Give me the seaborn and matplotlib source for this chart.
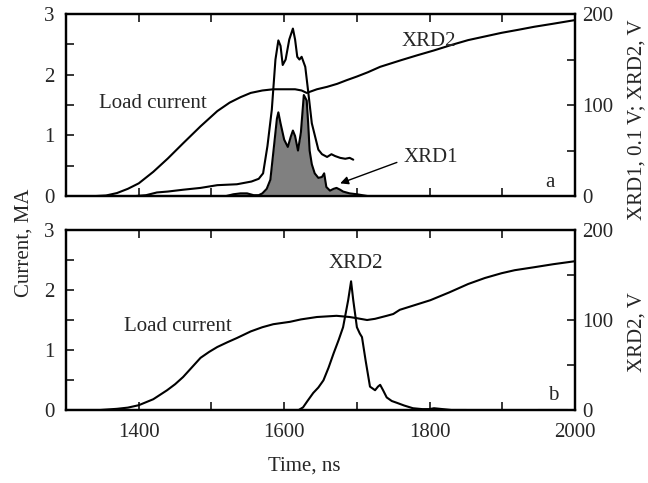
import numpy as np
import pandas as pd
import matplotlib
matplotlib.use("Agg")
import matplotlib.pyplot as plt
from matplotlib.ticker import MultipleLocator
import seaborn as sns

# ---------------- data ----------------
# Panel a: load current (MA)
ta_load = [1300, 1340, 1355, 1370, 1385, 1400, 1420, 1440, 1461, 1485, 1508, 1525, 1540,
           1554, 1570, 1585, 1600, 1615, 1624, 1631, 1645, 1659, 1673, 1686, 1700, 1715,
           1732, 1761, 1783, 1806, 1830, 1853, 1876, 1899, 1922, 1944, 1970, 2000]
ia_load = [0, 0, 0.01, 0.05, 0.12, 0.21, 0.4, 0.62, 0.87, 1.15, 1.40, 1.54, 1.63,
           1.70, 1.74, 1.76, 1.76, 1.76, 1.74, 1.70, 1.76, 1.80, 1.85, 1.91, 1.97, 2.04,
           2.13, 2.24, 2.32, 2.40, 2.49, 2.57, 2.63, 2.69, 2.74, 2.79, 2.84, 2.9]
# Panel a: XRD2 (V)
ta_xrd2 = [1395, 1410, 1425, 1440, 1461, 1485, 1508, 1535, 1555, 1565, 1571, 1577, 1583,
           1588, 1592, 1595, 1598, 1602, 1607, 1612, 1615, 1618, 1621, 1624, 1629, 1633,
           1638, 1647, 1652, 1659, 1665, 1670, 1677, 1684, 1690, 1695]
va_xrd2 = [0, 1, 4, 5, 7, 9, 12, 13, 16, 19, 25, 55, 95,
           150, 171, 165, 144, 150, 172, 184, 172, 153, 150, 153, 142, 115,
           80, 51, 46, 43, 46, 44, 42, 41, 42, 40]
# Panel a: XRD1 (units of 0.1 V)
ta_xrd1 = [1520, 1530, 1540, 1549, 1558, 1565, 1570, 1576, 1581, 1586, 1590, 1592, 1595,
           1600, 1605, 1609, 1612, 1615, 1619, 1623, 1627, 1631, 1633, 1635, 1638, 1642,
           1647, 1652, 1655, 1658, 1663, 1668, 1672, 1677, 1681, 1690, 1700, 1715, 1725,
           1733, 1738]
va_xrd1 = [0, 2, 3, 3, 1, 1, 3, 8, 18, 55, 85, 92, 80,
           62, 54, 65, 72, 66, 50, 70, 111, 105, 80, 50, 35, 25,
           20, 21, 25, 10, 6, 8, 9, 7, 5, 3, 2, 0, -1, -2, 0]
# Panel b: load current (MA)
tb_load = [1300, 1347, 1370, 1385, 1400, 1420, 1439, 1450, 1461, 1473, 1485, 1497, 1508,
           1522, 1535, 1554, 1570, 1585, 1608, 1623, 1645, 1672, 1690, 1700, 1714, 1725,
           1741, 1750, 1759, 1780, 1801, 1827, 1853, 1876, 1899, 1917, 1944, 1970, 2000]
ib_load = [0, 0, 0.02, 0.04, 0.08, 0.18, 0.33, 0.43, 0.55, 0.71, 0.87, 0.97, 1.05,
           1.13, 1.2, 1.31, 1.38, 1.43, 1.47, 1.51, 1.55, 1.57, 1.55, 1.53, 1.5, 1.52,
           1.57, 1.60, 1.67, 1.75, 1.83, 1.96, 2.1, 2.2, 2.28, 2.33, 2.38, 2.43, 2.48]
# Panel b: XRD2 (V)
tb_xrd2 = [1600, 1609, 1620, 1626, 1632, 1640, 1647, 1654, 1661, 1668, 1675, 1681, 1688,
           1692, 1695, 1700, 1704, 1707, 1712, 1718, 1725, 1729, 1732, 1736, 1741, 1748,
           1755, 1765, 1777, 1790, 1800, 1806, 1830, 1850, 1900, 1950, 1990]
vb_xrd2 = [0, 0, 0, 3, 10, 19, 25, 33, 47, 63, 78, 92, 122,
           143, 122, 92, 85, 81, 55, 26, 22, 26, 28, 22, 14, 10,
           8, 5, 2, 1, 1, 2, 0, 0, -1, 0, 0]

x_tick_labels = [1400, 1600, 1800, 2000]

# ---------------- style ----------------
sns.set_style("ticks")
plt.rcParams['font.family'] = ['Liberation Serif', 'DejaVu Serif']
plt.rcParams['font.size'] = 15

fig = plt.figure(figsize=(6.48, 4.83), dpi=100)
ax_a = fig.add_axes([0.1019, 0.594, 0.7855, 0.377])
ax_b = fig.add_axes([0.1019, 0.1511, 0.7855, 0.3727])
ax_a2 = ax_a.twinx()
ax_b2 = ax_b.twinx()

lw = 1.5
# panel a
sns.lineplot(x=ta_load, y=ia_load, ax=ax_a, color='black', lw=lw, sort=False)
ax_a2.fill_between(ta_xrd1, va_xrd1, 0, color='#808080', lw=0)
sns.lineplot(x=ta_xrd1, y=va_xrd1, ax=ax_a2, color='black', lw=lw, sort=False)
sns.lineplot(x=ta_xrd2, y=va_xrd2, ax=ax_a2, color='black', lw=lw, sort=False)
# panel b
sns.lineplot(x=tb_load, y=ib_load, ax=ax_b, color='black', lw=lw, sort=False)
sns.lineplot(x=tb_xrd2, y=vb_xrd2, ax=ax_b2, color='black', lw=lw, sort=False)

for ax, ax2 in [(ax_a, ax_a2), (ax_b, ax_b2)]:
    ax.set_xlim(1300, 2000)
    ax.set_ylim(0, 3)
    ax2.set_ylim(0, 200)
    ax.xaxis.set_major_locator(MultipleLocator(200))
    ax.xaxis.set_minor_locator(MultipleLocator(100))
    ax.yaxis.set_major_locator(MultipleLocator(1))
    ax.yaxis.set_minor_locator(MultipleLocator(0.5))
    ax2.yaxis.set_major_locator(MultipleLocator(100))
    ax2.yaxis.set_minor_locator(MultipleLocator(50))
    ax.tick_params(axis='both', which='both', direction='in', top=True, labelsize=15,
                   width=1.3, length=6)
    ax.tick_params(axis='x', pad=9)
    ax.tick_params(axis='y', pad=8)
    ax2.tick_params(axis='y', which='both', direction='in', labelsize=15, width=1.3,
                    length=6, pad=5)
    for a in (ax, ax2):
        for s in a.spines.values():
            s.set_linewidth(1.6)
            s.set_color('black')
        a.set_xlabel('')
        a.set_ylabel('')

ax_a.tick_params(labelbottom=False)
ax_b.set_xticks(x_tick_labels)

# annotations panel a
ax_a.text(1799, 2.55, 'XRD2', ha='center', va='center', fontsize=15)
ax_a.text(1419, 1.52, 'Load current', ha='center', va='center', fontsize=15)
ax_a.text(1966, 0.23, 'a', ha='center', va='center', fontsize=15)
ax_a2.text(1802, 42, 'XRD1', ha='center', va='center', fontsize=15)
ax_a2.annotate('', xy=(1677, 14), xytext=(1755, 37),
               arrowprops=dict(arrowstyle='-|>', color='black', lw=1.0,
                               shrinkA=0, shrinkB=0, mutation_scale=12))
# annotations panel b
ax_b.text(1699, 2.45, 'XRD2', ha='center', va='center', fontsize=15)
ax_b.text(1454, 1.4, 'Load current', ha='center', va='center', fontsize=15)
ax_b.text(1970, 0.25, 'b', ha='center', va='center', fontsize=15)

# axis labels
fig.text(24 / 648, 1 - 243 / 483, 'Current, MA', rotation=90, ha='center', va='center', fontsize=15)
fig.text(637 / 648, 1 - 120 / 483, 'XRD1, 0.1 V; XRD2, V', rotation=90, ha='center',
         va='center', fontsize=15)
fig.text(637 / 648, 1 - 332 / 483, 'XRD2, V', rotation=90, ha='center', va='center', fontsize=15)
fig.text(304 / 648, 1 - 466 / 483, 'Time, ns', ha='center', va='center', fontsize=15)

fig.savefig('out.png', dpi=100)
